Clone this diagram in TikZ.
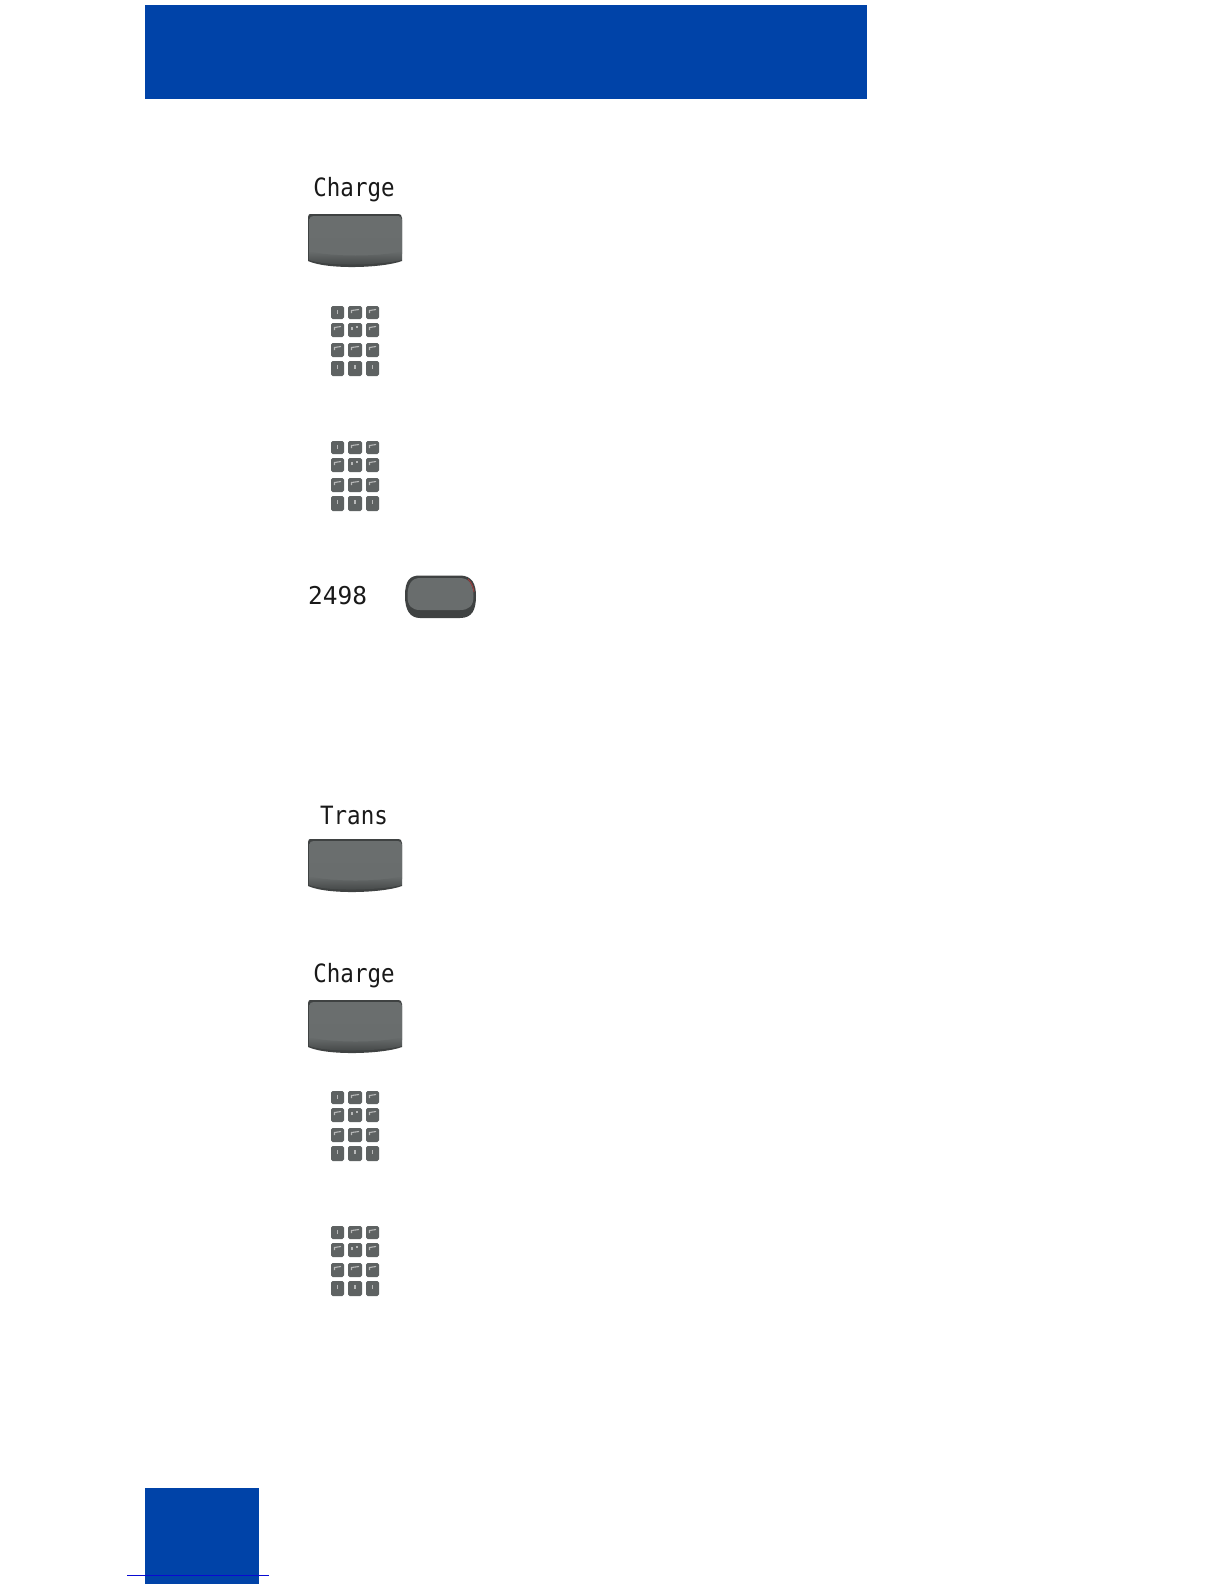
\documentclass[tikz,border=0pt]{standalone}
\usepackage{fontspec}
\setmainfont{DejaVu Sans Mono}
\definecolor{hdr}{HTML}{0043A8}
\definecolor{rulecol}{HTML}{0A0AD2}
\definecolor{keytop}{HTML}{6A6E6E}
\definecolor{keymid}{HTML}{696D6D}
\definecolor{keylow}{HTML}{404343}
\definecolor{keyedge}{HTML}{3F4242}
\definecolor{padkey}{HTML}{5E6262}
\tikzset{
  x=1pt,y=-1pt,
  banner/.style={fill=hdr,draw=none},
  lcdlabel/.style={font=\fontsize{22.5}{24}\selectfont,text=black!90,inner sep=0pt,anchor=center},
  padkeybox/.style={draw=none,rounded corners=1.6pt,fill=padkey},
  padmark/.style={draw=white!55!padkey,line width=1.1pt},
  softkey/.pic={
    \fill[keyedge] (0,3) .. controls (0,0) and (1,0) .. (5,0) -- (88,0) .. controls (93,0) and (94,1) .. (94,4)
      -- (94,47) .. controls (75,54) and (20,56) .. (0,47) -- cycle;
    \shade[top color=keytop,bottom color=keymid] (1.5,5) .. controls (1.5,3) and (3,2) .. (6,2) -- (88,2)
      .. controls (92,2) and (94,3) .. (94,6) -- (94,40) .. controls (75,45) and (20,45) .. (1.5,40) -- cycle;
    \shade[top color=keymid,bottom color=keylow] (1,37) .. controls (20,43) and (75,43) .. (94,37)
      -- (94,46) .. controls (75,51) and (20,53) .. (1,46) -- cycle;
  },
  dialpad/.pic={
    \foreach \kx/\ky/\kw/\kh/\mk in {
      331/306/13/13/0, 348/306/14/13/1, 366/306/13/13/1,
      331/323/13/14/1, 348/323/14/14/2, 366/323/13/14/1,
      331/343/13/14/1, 348/343/14/14/1, 366/343/13/14/1,
      331/361/13/15/0, 348/361/14/15/0, 366/361/13/15/0}{
      \fill[padkeybox] (\kx,\ky) rectangle ++(\kw,\kh);
      \ifnum\mk=1
        \draw[padmark] (\kx+3.5,\ky+7) -- (\kx+3.5,\ky+4.5) -- (\kx+\kw-3,\ky+3.5);
      \else\ifnum\mk=2
        \draw[padmark] (\kx+4,\ky+7) -- (\kx+4,\ky+4) (\kx+8,\ky+4) -- (\kx+10,\ky+4);
      \else
        \draw[padmark] (\kx+\kw/2,\ky+4) -- (\kx+\kw/2,\ky+8);
      \fi\fi
    }
  }
}
\begin{document}
\begin{tikzpicture}
\useasboundingbox (0,0) rectangle (1224,1584);
\fill[white] (0,0) rectangle (1224,1584);
% header and footer
\fill[banner] (145,5) rectangle (867,99);
\fill[banner] (145,1488) rectangle (259,1584);
\draw[rulecol,line width=1pt] (127,1575) -- (269,1575);
% first group
\node[lcdlabel] (chargeA) at (354,190) {\scalebox{1}[1.12]{Charge}};
\pic at (308,214) {softkey};
\pic at (0,0) {dialpad};
\pic at (0,135) {dialpad};
\node[lcdlabel,font=\fontsize{24.5}{26}\selectfont] (num) at (337.5,596) {2498};
% round key
\fill[keyedge] (405,596) .. controls (405,580) and (410,575.5) .. (420,575.5) -- (460,575.5)
  .. controls (472,575.5) and (476,584) .. (476,596) .. controls (476,610) and (472,618) .. (460,618)
  -- (420,618) .. controls (410,618) and (405,610) .. (405,596) -- cycle;
\fill[keymid] (407.5,596) .. controls (407.5,584) and (412,578) .. (420,578) -- (460,578)
  .. controls (469,578) and (473.5,585) .. (473.5,596) .. controls (473.5,606) and (469,610) .. (460,610)
  -- (420,610) .. controls (412,610) and (407.5,606) .. (407.5,596) -- cycle;
\draw[red!45!keytop,line width=0.8pt] (468,579) .. controls (472,583) and (473.5,588) .. (474,592);
% second group
\node[lcdlabel] (trans) at (354,815) {\scalebox{1}[1.12]{Trans}};
\pic at (308,839) {softkey};
\node[lcdlabel] (chargeB) at (354,976) {\scalebox{1}[1.12]{Charge}};
\pic at (308,1000) {softkey};
\pic at (0,785) {dialpad};
\pic at (0,920) {dialpad};
\end{tikzpicture}
\end{document}
